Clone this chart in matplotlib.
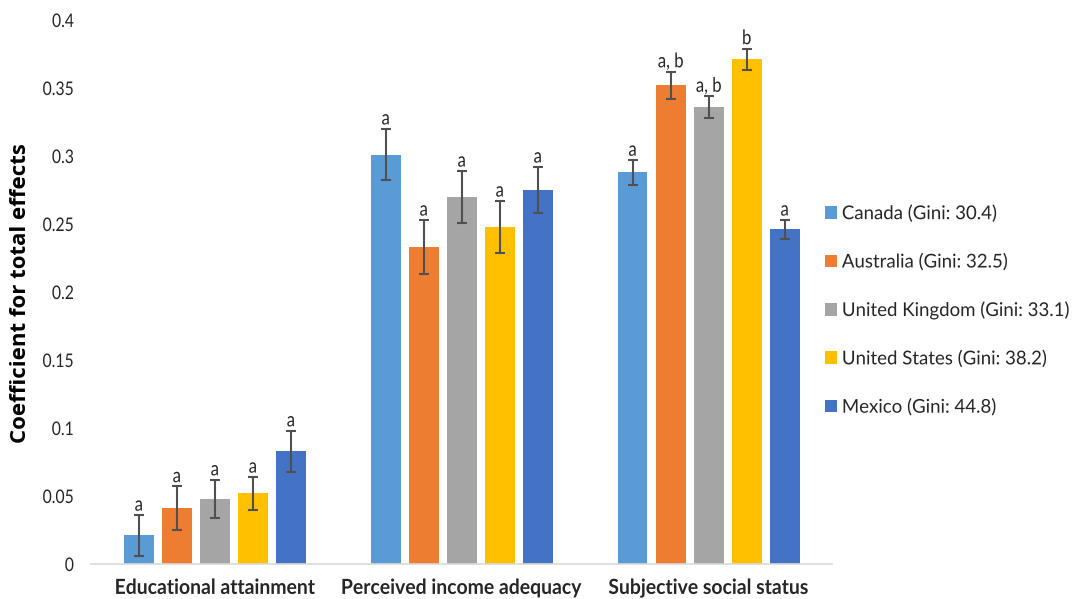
import matplotlib
matplotlib.use("Agg")
import matplotlib.pyplot as plt
import numpy as np
from matplotlib.patheffects import AbstractPathEffect
from matplotlib.transforms import Affine2D

# Data
categories = ["Educational attainment", "Perceived income adequacy", "Subjective social status"]
countries = [
    "Canada (Gini: 30.4)",
    "Australia (Gini: 32.5)",
    "United Kingdom (Gini: 33.1)",
    "United States (Gini: 38.2)",
    "Mexico (Gini: 44.8)",
]
canada = [0.021, 0.301, 0.288]
australia = [0.041, 0.233, 0.352]
united_kingdom = [0.048, 0.270, 0.336]
united_states = [0.052, 0.248, 0.371]
mexico = [0.083, 0.275, 0.246]

canada_err = [0.015, 0.019, 0.009]
australia_err = [0.016, 0.020, 0.010]
united_kingdom_err = [0.014, 0.019, 0.008]
united_states_err = [0.012, 0.019, 0.008]
mexico_err = [0.015, 0.017, 0.007]

canada_sig = ["a", "a", "a"]
australia_sig = ["a", "a", "a, b"]
united_kingdom_sig = ["a", "a", "a, b"]
united_states_sig = ["a", "a", "b"]
mexico_sig = ["a", "a", "a"]

y_ticks = [0, 0.05, 0.1, 0.15, 0.2, 0.25, 0.3, 0.35, 0.4]
y_tick_labels = ["0", "0.05", "0.1", "0.15", "0.2", "0.25", "0.3", "0.35", "0.4"]

colors = ["#5B9BD5", "#ED7D31", "#A5A5A5", "#FFC000", "#4472C4"]

series = [canada, australia, united_kingdom, united_states, mexico]
errors = [canada_err, australia_err, united_kingdom_err, united_states_err, mexico_err]
sigs = [canada_sig, australia_sig, united_kingdom_sig, united_states_sig, mexico_sig]

FONT = ["Lato", "DejaVu Sans"]
TEXT_COLOR = "#262626"


class Squeeze(AbstractPathEffect):
    """Narrow the glyphs horizontally (the original uses a condensed font)."""

    def __init__(self, factor, anchor="center"):
        super().__init__()
        self.factor = factor
        self.anchor = anchor

    def draw_path(self, renderer, gc, tpath, affine, rgbFace=None):
        ext = tpath.get_extents()
        x0 = {"left": ext.x0, "center": (ext.x0 + ext.x1) / 2, "right": ext.x1}[self.anchor]
        t = Affine2D().translate(-x0, 0).scale(self.factor, 1).translate(x0, 0) + affine
        renderer.draw_path(gc, tpath, t, rgbFace)


fig = plt.figure(figsize=(10.75, 5.99), dpi=100)
ax = fig.add_axes([0.085, 0.0584, 0.689, 0.9082])

x = np.arange(len(categories))
width = 0.121
pitch = 0.154

for i, (vals, errs, labs) in enumerate(zip(series, errors, sigs)):
    pos = x + (i - 2) * pitch
    ax.bar(pos, vals, width, color=colors[i], label=countries[i], zorder=2)
    ax.errorbar(pos, vals, yerr=errs, fmt="none", ecolor="#505050",
                elinewidth=1.5, capsize=3.6, capthick=1.5, zorder=3)
    for p, v, e, lab in zip(pos, vals, errs, labs):
        ax.text(p, v + e + 0.001, lab, ha="center", va="bottom",
                fontsize=14.5, family=FONT, color=TEXT_COLOR,
                path_effects=[Squeeze(0.83)])

ax.set_xlim(-0.5, 2.5)
ax.set_ylim(0, 0.4)
ax.set_yticks(y_ticks)
ax.set_yticklabels(y_tick_labels, family=FONT, fontsize=13.5, color=TEXT_COLOR)
for t in ax.get_yticklabels():
    t.set_path_effects([Squeeze(0.84, "right")])
ax.set_xticks(x)
ax.set_xticklabels(categories, family=FONT, fontsize=15,
                   fontweight="bold", color=TEXT_COLOR)
for t in ax.get_xticklabels():
    t.set_path_effects([Squeeze(0.93)])
ax.tick_params(axis="both", length=0)
ax.tick_params(axis="y", pad=12.5)
ax.tick_params(axis="x", pad=10)

for s in ["top", "right", "left"]:
    ax.spines[s].set_visible(False)
ax.spines["bottom"].set_color("#D9D9D9")
ax.spines["bottom"].set_linewidth(1.2)

ax.set_ylabel("Coefficient for total effects", fontsize=16, fontweight="bold",
              family=["Open Sans", "DejaVu Sans"], color="#000000")
ax.yaxis.set_label_coords(-0.082, 0.498)

leg = fig.legend(loc="center left", bbox_to_anchor=(0.7585, 0.4825), frameon=False,
                 prop={"family": FONT, "size": 13.7}, borderpad=0,
                 handlelength=0.63, handleheight=0.63, handletextpad=0.26,
                 labelspacing=1.6)
for t in leg.get_texts():
    t.set_color(TEXT_COLOR)
    t.set_path_effects([Squeeze(0.98, "left")])

fig.savefig("out.png", dpi=100)
